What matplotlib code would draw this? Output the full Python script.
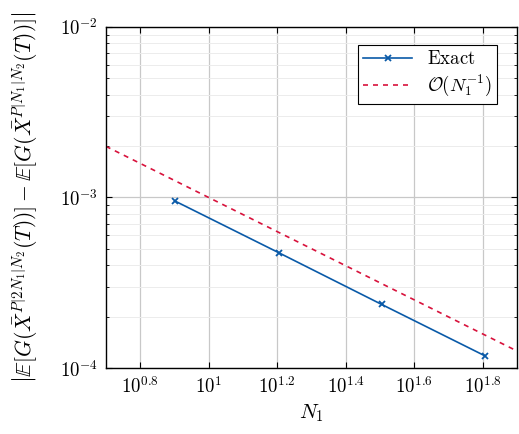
import numpy as np
import matplotlib
matplotlib.use("Agg")
import matplotlib.pyplot as plt
from matplotlib.ticker import FixedLocator, LogLocator, NullFormatter

plt.rcParams['mathtext.fontset'] = 'cm'
plt.rcParams['font.family'] = 'DejaVu Serif'

# data
n1 = [8, 16, 32, 64]
err_exact = [9.5e-4, 4.75e-4, 2.36e-4, 1.18e-4]
ref_n = [10 ** 0.7, 10 ** 1.9]
ref_const = 1e-2  # O(N1^-1) reference: C / N1

xtick_exp = [0.8, 1.0, 1.2, 1.4, 1.6, 1.8]
xtick_labels = [r'$10^{0.8}$', r'$10^{1}$', r'$10^{1.2}$', r'$10^{1.4}$', r'$10^{1.6}$', r'$10^{1.8}$']

blue = '#0a5aa8'
red = '#d8123c'

fig = plt.figure(figsize=(5.19, 4.34), dpi=100)
ax = fig.add_axes([0.204, 0.152, 0.792, 0.786])

ax.plot(n1, err_exact, color=blue, marker='x', markersize=5, markeredgewidth=1.3,
        linewidth=1.2, label=r'$\mathrm{Exact}$')
ref_y = [ref_const / n for n in ref_n]
ax.plot(ref_n, ref_y, color=red, linestyle=(0, (3, 3)), linewidth=1.2,
        label=r'$\mathcal{O}(N_1^{-1})$')

ax.set_xscale('log')
ax.set_yscale('log')
ax.set_xlim(10 ** 0.7, 10 ** 1.9)
ax.set_ylim(1e-4, 1e-2)

ax.xaxis.set_major_locator(FixedLocator([10 ** e for e in xtick_exp]))
ax.set_xticklabels(xtick_labels)
ax.xaxis.set_minor_locator(FixedLocator([]))
ax.yaxis.set_major_locator(FixedLocator([1e-4, 1e-3, 1e-2]))
ax.set_yticklabels([r'$10^{-4}$', r'$10^{-3}$', r'$10^{-2}$'])
ax.yaxis.set_minor_locator(LogLocator(base=10, subs=np.arange(2, 10)))
ax.yaxis.set_minor_formatter(NullFormatter())

ax.tick_params(which='both', direction='in', top=True, right=True, labelsize=13.5)
ax.tick_params(which='major', length=4, width=0.8, pad=6)
ax.tick_params(which='minor', length=2.5, width=0.6)

ax.grid(True, which='major', color='#c8c8c8', linewidth=0.9)
ax.grid(True, which='minor', axis='y', color='#ececec', linewidth=0.7)
ax.set_axisbelow(True)

for s in ax.spines.values():
    s.set_linewidth(1.0)

ax.set_xlabel(r'$N_1$', fontsize=15, labelpad=4)
ax.set_ylabel(r'$\left|\mathbb{E}[G(\bar{X}^{P|2N_1|N_2}(T))] - \mathbb{E}[G(\bar{X}^{P|N_1|N_2}(T))]\right|$',
              fontsize=15.5)
ax.yaxis.set_label_coords(-0.16, 0.5)

leg = ax.legend(loc='upper right', fontsize=13.5, frameon=True, fancybox=False,
                edgecolor='black', framealpha=1, handlelength=2.6,
                borderpad=0.3, labelspacing=0.25, bbox_to_anchor=(0.975, 0.975))
leg.get_frame().set_linewidth(0.8)

fig.savefig('out.png', dpi=100)
